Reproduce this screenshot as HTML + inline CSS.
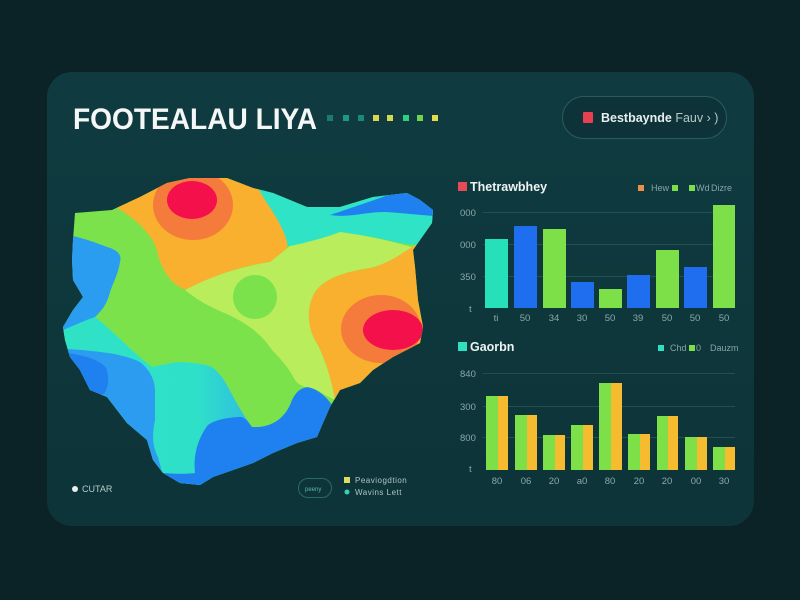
<!DOCTYPE html>
<html><head><meta charset="utf-8">
<style>
html,body{margin:0;padding:0;background:#0b2226;}
svg{display:block;}
text{font-family:"Liberation Sans",sans-serif;}
</style></head>
<body>
<svg width="800" height="600" viewBox="0 0 800 600" xmlns="http://www.w3.org/2000/svg">
<defs>
<clipPath id="mapclip">
<path d="M75,213 L112,210 L140,197 L167,183 L190,178 L227,178 L253,188 L273,193 L307,207 L340,207 L373,197 L407,193 L420,200 L433,210 L432,223 L420,240 L413,250 L415,267 L418,300 L423,327 L420,343 L393,357 L373,370 L360,383 L340,390 L330,407 L323,423 L317,437 L297,443 L273,453 L253,463 L233,470 L213,477 L200,485 L180,483 L163,473 L153,460 L147,440 L127,423 L117,410 L107,397 L90,390 L80,370 L70,357 L65,340 L63,327 L73,310 L83,297 L73,280 L72,260 L73,240 Z"/>
</clipPath>
<linearGradient id="bg" x1="0" y1="0" x2="0" y2="1">
<stop offset="0" stop-color="#0f3b40"/><stop offset="1" stop-color="#0d3438"/>
</linearGradient>
<linearGradient id="cyg" x1="0" y1="0" x2="1" y2="0">
<stop offset="0" stop-color="#2fe3c6"/><stop offset="0.7" stop-color="#2fe0c8"/><stop offset="1" stop-color="#2fb8e8"/>
</linearGradient>
</defs>
<rect width="800" height="600" fill="#0b2226"/>
<rect x="47" y="72" width="707" height="454" rx="25" fill="url(#bg)"/>

<!-- Title -->
<text x="73" y="129" font-size="30" font-weight="bold" fill="#f4f7f6" textLength="244" lengthAdjust="spacingAndGlyphs">FOOTEALAU LIYA</text>
<g>
<rect x="327" y="115" width="6" height="6" fill="#1a7d6c"/>
<rect x="343" y="115" width="6" height="6" fill="#1c9a80"/>
<rect x="358" y="115" width="6" height="6" fill="#1a8a72"/>
<rect x="373" y="115" width="6" height="6" fill="#dcd64c"/>
<rect x="387" y="115" width="6" height="6" fill="#d4da50"/>
<rect x="403" y="115" width="6" height="6" fill="#2fcf82"/>
<rect x="417" y="115" width="6" height="6" fill="#6fd250"/>
<rect x="432" y="115" width="6" height="6" fill="#e2dc4e"/>
</g>

<!-- Pill button -->
<rect x="562.5" y="96.5" width="164" height="42" rx="21" fill="#0d3237" stroke="#2a5c5d" stroke-width="1"/>
<rect x="583" y="112" width="10" height="11" rx="1" fill="#e84050"/>
<text x="601" y="122" font-size="12.5" font-weight="bold" fill="#e8eeee">Bestbaynde <tspan font-weight="normal" fill="#b8c8c8">Fauv › )</tspan></text>

<!-- Map -->
<g clip-path="url(#mapclip)">
<rect x="40" y="160" width="420" height="350" fill="#7be24c"/>
<!-- lower cyan (behind) -->
<path d="M50,328 C70,325 85,318 95,317 C110,328 130,350 152,367 C165,364 175,362 182,362 C195,363 205,364 212,367 C222,375 225,382 228,387 C235,400 240,410 252,427 L260,500 L50,500 Z" fill="url(#cyg)"/>
<!-- upper-left blue -->
<path d="M50,232 C70,234 90,240 107,247 C118,250 122,255 120,262 C118,275 112,285 110,292 C108,300 105,308 95,317 C80,322 65,330 50,335 Z" fill="#2a9df0"/>
<!-- mid blue lower-left -->
<path d="M50,348 C85,350 120,352 140,362 C150,370 155,380 155,392 L155,420 C152,435 152,445 158,457 C160,465 162,470 163,480 L50,480 Z" fill="#2b9cf0"/>
<!-- dark blue left strip -->
<path d="M50,350 C75,354 98,357 106,368 C110,378 108,388 104,394 L50,400 Z" fill="#1f80f0"/>
<!-- bottom blue -->
<path d="M150,472 C165,473 180,475 195,473 C193,455 198,438 208,425 C215,420 228,417 242,417 C248,420 250,425 252,427 C270,428 285,420 292,400 C296,392 300,388 308,387 C318,390 325,395 332,405 L345,400 L340,500 L150,500 Z" fill="#1f80f0"/>
<!-- top orange -->
<path d="M112,205 C130,215 150,230 157,250 C160,270 175,290 190,290 C205,280 230,268 270,262 C290,255 292,240 280,222 C268,205 262,195 255,180 L110,170 Z" fill="#f8b02e"/>
<ellipse cx="193" cy="205" rx="40" ry="35" fill="#f57b3c"/>
<ellipse cx="192" cy="200" rx="25" ry="19" fill="#f4104a"/>
<!-- cyan top-right -->
<path d="M250,175 L450,175 L450,240 C430,248 410,245 395,242 C370,236 350,232 335,236 C315,242 300,245 288,246 C285,230 275,215 265,200 Z" fill="#2fe3c6"/>
<path d="M330,215 C345,210 360,205 380,198 C400,190 420,190 440,195 L440,216 C425,216 405,213 385,212 C365,212 350,218 330,215 Z" fill="#1f80f0"/>
<!-- yellow-green -->
<path d="M185,290 C200,282 230,268 270,262 L290,246 C310,242 330,236 340,232 C370,236 395,242 415,248 C400,255 385,265 370,268 C345,272 325,278 315,292 C305,310 308,330 318,345 C325,360 332,380 335,400 L325,395 C318,390 312,387 305,387 C300,385 296,382 295,380 C290,370 282,360 272,350 C262,335 250,325 227,314 C205,305 195,298 185,290 Z" fill="#b9ed5c"/>
<circle cx="255" cy="297" r="22" fill="#7be24c"/>
<!-- right orange -->
<path d="M415,245 C400,255 385,265 370,268 C345,272 325,278 315,292 C305,310 308,330 318,345 C325,360 332,380 335,400 L345,395 L440,340 L440,245 Z" fill="#f8b02e"/>
<ellipse cx="381" cy="329" rx="40" ry="34" fill="#f57b3c"/>
<ellipse cx="393" cy="330" rx="30" ry="20" fill="#f4104a"/>
</g>

<!-- Map legend -->
<circle cx="75" cy="489" r="3" fill="#e8eeee"/>
<text x="82" y="492" font-size="9" fill="#b8c8c8">CUTAR</text>
<rect x="298.5" y="478.5" width="33" height="19" rx="9.5" fill="none" stroke="#2a6a66" stroke-width="1"/>
<text x="305" y="491" font-size="6" fill="#5fb8a0">peeny</text>
<rect x="344" y="477" width="6" height="6" fill="#e0dc60"/>
<text x="355" y="483" font-size="8" fill="#b0c4c4" letter-spacing="0.5">Peaviogdtion</text>
<circle cx="347" cy="492" r="2.5" fill="#3ad0b0"/>
<text x="355" y="495" font-size="8" fill="#b0c4c4" letter-spacing="0.5">Wavins Lett</text>

<!-- Chart 1 -->
<rect x="458" y="182" width="9" height="9" fill="#e84a55"/>
<text x="470" y="191" font-size="12.5" font-weight="bold" fill="#eef2f2">Thetrawbhey</text>
<rect x="638" y="185" width="6" height="6" fill="#e8904a"/>
<text x="651" y="191" font-size="9" fill="#8aa4a4">Hew</text>
<rect x="672" y="185" width="6" height="6" fill="#7ee048"/>
<rect x="689" y="185" width="6" height="6" fill="#7ee048"/>
<text x="696" y="191" font-size="9" fill="#8aa4a4">Wd</text>
<text x="711" y="191" font-size="9" fill="#8aa4a4">Dizre</text>
<g stroke="#22504f" stroke-width="1">
<line x1="483" y1="212.5" x2="735" y2="212.5"/>
<line x1="483" y1="244.5" x2="735" y2="244.5"/>
<line x1="483" y1="276.5" x2="735" y2="276.5"/>
</g>
<g font-size="9.5" fill="#8ea8a8">
<text x="460" y="216">000</text>
<text x="460" y="248">000</text>
<text x="460" y="280">350</text>
<text x="469" y="312">t</text>
</g>
<rect x="485" y="239" width="23" height="69" fill="#25e0b8"/>
<rect x="514" y="226" width="23" height="82" fill="#1f6ef0"/>
<rect x="543" y="229" width="23" height="79" fill="#7ee048"/>
<rect x="571" y="282" width="23" height="26" fill="#1f6ef0"/>
<rect x="599" y="289" width="23" height="19" fill="#7ee048"/>
<rect x="627" y="275" width="23" height="33" fill="#1f6ef0"/>
<rect x="656" y="250" width="23" height="58" fill="#7ee048"/>
<rect x="684" y="267" width="23" height="41" fill="#1f6ef0"/>
<rect x="713" y="205" width="22" height="103" fill="#7ee048"/>
<g font-size="9.5" fill="#8ea8a8" text-anchor="middle">
<text x="496" y="321">ti</text>
<text x="525" y="321">50</text>
<text x="554" y="321">34</text>
<text x="582" y="321">30</text>
<text x="610" y="321">50</text>
<text x="638" y="321">39</text>
<text x="667" y="321">50</text>
<text x="695" y="321">50</text>
<text x="724" y="321">50</text>
</g>

<!-- Chart 2 -->
<rect x="458" y="342" width="9" height="9" fill="#2fe0c0"/>
<text x="470" y="351" font-size="12.5" font-weight="bold" fill="#eef2f2">Gaorbn</text>
<rect x="658" y="345" width="6" height="6" fill="#2fe0c0"/>
<text x="670" y="351" font-size="9" fill="#8aa4a4">Chd</text>
<rect x="689" y="345" width="6" height="6" fill="#7ee048"/>
<text x="696" y="351" font-size="9" fill="#8aa4a4">0</text>
<text x="710" y="351" font-size="9" fill="#8aa4a4">Dauzm</text>
<g stroke="#22504f" stroke-width="1">
<line x1="483" y1="373.5" x2="735" y2="373.5"/>
<line x1="483" y1="406.5" x2="735" y2="406.5"/>
<line x1="483" y1="437.5" x2="735" y2="437.5"/>
</g>
<g font-size="9.5" fill="#8ea8a8">
<text x="460" y="377">840</text>
<text x="460" y="410">300</text>
<text x="460" y="441">800</text>
<text x="469" y="472">t</text>
</g>
<g>
<rect x="486" y="396" width="22" height="74" fill="#f6bc30"/><rect x="486" y="396" width="12" height="74" fill="#7ee048"/>
<rect x="515" y="415" width="22" height="55" fill="#f6bc30"/><rect x="515" y="415" width="12" height="55" fill="#7ee048"/>
<rect x="543" y="435" width="22" height="35" fill="#f6bc30"/><rect x="543" y="435" width="12" height="35" fill="#7ee048"/>
<rect x="571" y="425" width="22" height="45" fill="#f6bc30"/><rect x="571" y="425" width="12" height="45" fill="#7ee048"/>
<rect x="599" y="383" width="23" height="87" fill="#f6bc30"/><rect x="599" y="383" width="12" height="87" fill="#7ee048"/>
<rect x="628" y="434" width="22" height="36" fill="#f6bc30"/><rect x="628" y="434" width="12" height="36" fill="#7ee048"/>
<rect x="657" y="416" width="21" height="54" fill="#f6bc30"/><rect x="657" y="416" width="11" height="54" fill="#7ee048"/>
<rect x="685" y="437" width="22" height="33" fill="#f6bc30"/><rect x="685" y="437" width="12" height="33" fill="#7ee048"/>
<rect x="713" y="447" width="22" height="23" fill="#f6bc30"/><rect x="713" y="447" width="12" height="23" fill="#7ee048"/>
</g>
<g font-size="9.5" fill="#8ea8a8" text-anchor="middle">
<text x="497" y="484">80</text>
<text x="526" y="484">06</text>
<text x="554" y="484">20</text>
<text x="582" y="484">a0</text>
<text x="610" y="484">80</text>
<text x="639" y="484">20</text>
<text x="667" y="484">20</text>
<text x="696" y="484">00</text>
<text x="724" y="484">30</text>
</g>
</svg>
</body></html>
